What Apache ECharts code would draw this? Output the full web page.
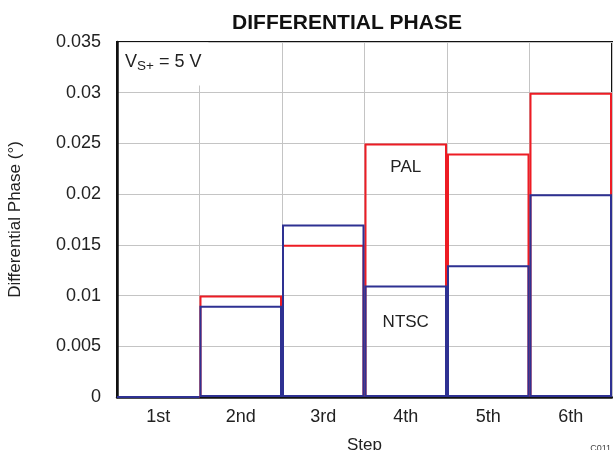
<!DOCTYPE html>
<html>
<head>
<meta charset="utf-8">
<script src="https://cdn.jsdelivr.net/npm/echarts@6/dist/echarts.min.js"></script>
<style>
html,body{margin:0;padding:0;background:#fff;}
#c{width:613px;height:450px;}
</style>
</head>
<body>
<div id="c"></div>
<script>
const categories = ['1st', '2nd', '3rd', '4th', '5th', '6th'];
const palValues = [0, 0.010, 0.015, 0.025, 0.024, 0.030];
const ntscValues = [0, 0.009, 0.017, 0.011, 0.013, 0.020];
const yTicks = { min: 0, max: 0.035, interval: 0.005 };

const FONT = 'Liberation Sans, Arial, sans-serif';
const RED = '#ed1c24';
const BLUE = '#2e3192';

const chart = echarts.init(document.getElementById('c'), null, { renderer: 'canvas' });
chart.setOption({
  animation: false,
  backgroundColor: '#fff',
  textStyle: { fontFamily: FONT },
  title: {
    text: 'DIFFERENTIAL PHASE',
    left: 342, textAlign: 'center', top: 8,
    textStyle: { fontFamily: FONT, fontSize: 21, fontWeight: 'bold', color: '#111' }
  },
  grid: {
    left: 117, right: 1, top: 42, bottom: 53,
    outerBoundsMode: 'none',
    containLabel: false,
    show: true, borderColor: '#111', borderWidth: 2, backgroundColor: 'transparent'
  },
  xAxis: {
    type: 'category',
    data: categories,
    boundaryGap: true,
    name: 'Step',
    nameLocation: 'middle',
    nameGap: 40,
    nameTextStyle: { fontFamily: FONT, fontSize: 17, color: '#222' },
    axisLine: { show: true, lineStyle: { color: '#111', width: 2.5 } },
    axisTick: { show: false },
    axisLabel: { fontFamily: FONT, fontSize: 18, color: '#222', margin: 11 },
    splitLine: { show: true, lineStyle: { color: '#c4c4c4', width: 1 } }
  },
  yAxis: {
    type: 'value',
    min: yTicks.min, max: yTicks.max, interval: yTicks.interval,
    name: 'Differential Phase (°)',
    nameLocation: 'middle',
    nameGap: 93,
    nameTextStyle: { fontFamily: FONT, fontSize: 17, color: '#222' },
    axisLine: { show: true, lineStyle: { color: '#111', width: 2.5 } },
    axisTick: { show: false },
    axisLabel: { fontFamily: FONT, fontSize: 18, color: '#222', margin: 16 },
    splitLine: { show: true, lineStyle: { color: '#c4c4c4', width: 1 } }
  },
  series: [
    {
      name: 'PAL', type: 'bar', data: palValues,
      barWidth: '100%', barGap: '-100%', barCategoryGap: 0,
      itemStyle: { color: 'rgba(0,0,0,0)', borderColor: RED, borderWidth: 2 },
      z: 3,
      markPoint: {
        symbol: 'rect', symbolSize: 0,
        data: [
          { coord: ['4th', 0.0226], value: 'PAL' }
        ],
        label: { show: true, position: 'inside', formatter: 'PAL', fontFamily: FONT, fontSize: 17, color: '#222' }
      }
    },
    {
      name: 'NTSC', type: 'bar', data: ntscValues,
      barWidth: '100%', barGap: '-100%', barCategoryGap: 0,
      itemStyle: { color: 'rgba(0,0,0,0)', borderColor: BLUE, borderWidth: 2 },
      z: 4,
      markPoint: {
        symbol: 'rect', symbolSize: 0,
        data: [
          { coord: ['4th', 0.0074], value: 'NTSC',
            label: { formatter: 'NTSC' } },
          { coord: ['1st', 0.03283], value: 'VS',
            label: {
              formatter: '{v|V}{s|S+}{v| = 5 V}',
              backgroundColor: '#fff',
              padding: [9, 7, 12, 6],
              offset: [5.5, 0],
              rich: {
                v: { fontFamily: FONT, fontSize: 18, color: '#222' },
                s: { fontFamily: FONT, fontSize: 13.5, color: '#222', verticalAlign: 'bottom', padding: [8, 0, 0, 0] }
              }
            } }
        ],
        label: { show: true, position: 'inside', fontFamily: FONT, fontSize: 17, color: '#222' }
      }
    }
  ],
  graphic: [
    { type: 'text', right: 2, top: 444, style: { text: 'C011', font: '9px ' + FONT, fill: '#444' } }
  ]
});
</script>
</body>
</html>
